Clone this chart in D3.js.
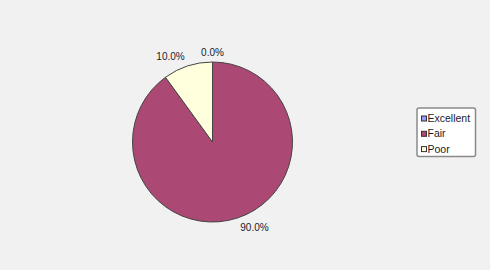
<!DOCTYPE html>
<html>
<head>
<meta charset="utf-8">
<script src="https://cdn.jsdelivr.net/npm/d3@7"></script>
<style>
  body { margin: 0; background: #f1f1f1; }
  svg { display: block; font-family: "Liberation Sans", Arial, sans-serif; }
</style>
</head>
<body>
<div id="chart"></div>
<script>
var categories = ["Excellent", "Fair", "Poor"];
var values = [0, 90, 10];
var colors = ["#9999ff", "#ab4873", "#ffffdd"];

var width = 490,
    height = 270,
    cx = 212.5,
    cy = 142,
    radius = 80;

var svg = d3.select("#chart").append("svg")
    .attr("width", width)
    .attr("height", height);

svg.append("rect")
    .attr("width", width)
    .attr("height", height)
    .attr("fill", "#f1f1f1");

var color = d3.scaleOrdinal().domain(categories).range(colors);

var total = d3.sum(values);
var data = categories.map(function(c, i) { return { name: c, value: values[i] }; });

var pie = d3.pie()
    .sort(null)
    .value(function(d) { return d.value; });

var arc = d3.arc()
    .innerRadius(0)
    .outerRadius(radius);

var g = svg.append("g")
    .attr("transform", "translate(" + cx + "," + cy + ")");

var arcs = pie(data);

g.selectAll("path")
    .data(arcs.filter(function(d) { return d.value > 0; }))
    .enter().append("path")
        .attr("d", arc)
        .attr("fill", function(d) { return color(d.data.name); })
        .attr("stroke", "#444")
        .attr("stroke-width", 1);

/* percentage labels outside the pie */
var labelR = radius + 10;
g.selectAll("text.lbl")
    .data(arcs)
    .enter().append("text")
        .attr("class", "lbl")
        .attr("font-size", 10)
        .attr("fill", "#1a1a2e")
        .attr("dy", "0.35em")
        .attr("x", function(d) { return Math.sin((d.startAngle + d.endAngle) / 2) * labelR; })
        .attr("y", function(d) { return -Math.cos((d.startAngle + d.endAngle) / 2) * labelR; })
        .attr("text-anchor", function(d) {
            var s = Math.sin((d.startAngle + d.endAngle) / 2);
            return Math.abs(s) < 0.05 ? "middle" : (s > 0 ? "start" : "end");
        })
        .text(function(d) { return (d.value / total * 100).toFixed(1) + "%"; });

/* legend */
var legend = svg.append("g")
    .attr("transform", "translate(417,108)");

legend.append("rect")
    .attr("width", 58.5)
    .attr("height", 48.5)
    .attr("rx", 2)
    .attr("fill", "#ffffff")
    .attr("stroke", "#8a8a8a")
    .attr("stroke-width", 1.5);

var item = legend.selectAll("g.item")
    .data(categories)
    .enter().append("g")
        .attr("class", "item")
        .attr("transform", function(d, i) { return "translate(0," + (10.5 + i * 15.3) + ")"; });

item.append("rect")
    .attr("x", 4.5)
    .attr("y", -2.5)
    .attr("width", 5)
    .attr("height", 5)
    .attr("fill", function(d) { return color(d); })
    .attr("stroke", "#333")
    .attr("stroke-width", 1);

item.append("text")
    .attr("x", 10.5)
    .attr("y", 0)
    .attr("dy", "0.35em")
    .attr("font-size", 10.5)
    .attr("fill", "#1a1a2e")
    .text(function(d) { return d; });
</script>
</body>
</html>
